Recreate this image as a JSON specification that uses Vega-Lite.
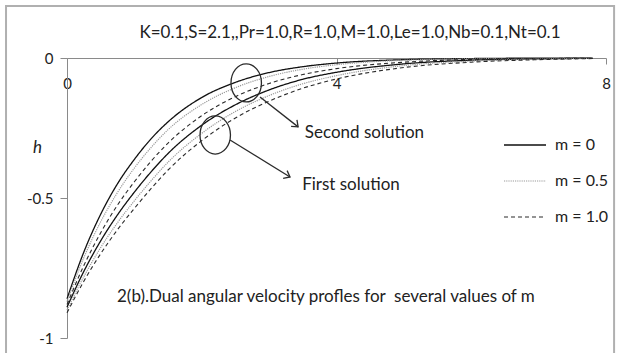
{
  "$schema": "https://vega.github.io/schema/vega-lite/v6.json",
  "width": 539,
  "height": 280,
  "autosize": "none",
  "padding": {"left": 67, "top": 58, "right": 15, "bottom": 15},
  "background": "white",
  "config": {
    "view": {"stroke": null},
    "font": "Lato"
  },
  "datasets": {
    "profiles": [
      {"sol": "second", "m": "m = 0", "x": 0, "h": -0.86},
      {"sol": "second", "m": "m = 0", "x": 0.25, "h": -0.693},
      {"sol": "second", "m": "m = 0", "x": 0.5, "h": -0.558},
      {"sol": "second", "m": "m = 0", "x": 0.75, "h": -0.449},
      {"sol": "second", "m": "m = 0", "x": 1, "h": -0.362},
      {"sol": "second", "m": "m = 0", "x": 1.25, "h": -0.288},
      {"sol": "second", "m": "m = 0", "x": 1.5, "h": -0.228},
      {"sol": "second", "m": "m = 0", "x": 2, "h": -0.141},
      {"sol": "second", "m": "m = 0", "x": 2.5, "h": -0.087},
      {"sol": "second", "m": "m = 0", "x": 3, "h": -0.052},
      {"sol": "second", "m": "m = 0", "x": 3.5, "h": -0.031},
      {"sol": "second", "m": "m = 0", "x": 4, "h": -0.018},
      {"sol": "second", "m": "m = 0", "x": 5, "h": -0.006},
      {"sol": "second", "m": "m = 0", "x": 6, "h": -0.002},
      {"sol": "second", "m": "m = 0", "x": 7, "h": -0.0005},
      {"sol": "second", "m": "m = 0", "x": 7.8, "h": -0.0002},

      {"sol": "second", "m": "m = 0.5", "x": 0, "h": -0.87},
      {"sol": "second", "m": "m = 0.5", "x": 0.25, "h": -0.713},
      {"sol": "second", "m": "m = 0.5", "x": 0.5, "h": -0.585},
      {"sol": "second", "m": "m = 0.5", "x": 0.75, "h": -0.48},
      {"sol": "second", "m": "m = 0.5", "x": 1, "h": -0.393},
      {"sol": "second", "m": "m = 0.5", "x": 1.25, "h": -0.319},
      {"sol": "second", "m": "m = 0.5", "x": 1.5, "h": -0.256},
      {"sol": "second", "m": "m = 0.5", "x": 2, "h": -0.166},
      {"sol": "second", "m": "m = 0.5", "x": 2.5, "h": -0.106},
      {"sol": "second", "m": "m = 0.5", "x": 3, "h": -0.066},
      {"sol": "second", "m": "m = 0.5", "x": 3.5, "h": -0.04},
      {"sol": "second", "m": "m = 0.5", "x": 4, "h": -0.024},
      {"sol": "second", "m": "m = 0.5", "x": 5, "h": -0.008},
      {"sol": "second", "m": "m = 0.5", "x": 6, "h": -0.003},
      {"sol": "second", "m": "m = 0.5", "x": 7, "h": -0.001},
      {"sol": "second", "m": "m = 0.5", "x": 7.8, "h": -0.0003},

      {"sol": "second", "m": "m = 1.0", "x": 0, "h": -0.88},
      {"sol": "second", "m": "m = 1.0", "x": 0.25, "h": -0.741},
      {"sol": "second", "m": "m = 1.0", "x": 0.5, "h": -0.624},
      {"sol": "second", "m": "m = 1.0", "x": 0.75, "h": -0.525},
      {"sol": "second", "m": "m = 1.0", "x": 1, "h": -0.442},
      {"sol": "second", "m": "m = 1.0", "x": 1.25, "h": -0.368},
      {"sol": "second", "m": "m = 1.0", "x": 1.5, "h": -0.304},
      {"sol": "second", "m": "m = 1.0", "x": 2, "h": -0.206},
      {"sol": "second", "m": "m = 1.0", "x": 2.5, "h": -0.138},
      {"sol": "second", "m": "m = 1.0", "x": 3, "h": -0.091},
      {"sol": "second", "m": "m = 1.0", "x": 3.5, "h": -0.059},
      {"sol": "second", "m": "m = 1.0", "x": 4, "h": -0.038},
      {"sol": "second", "m": "m = 1.0", "x": 5, "h": -0.015},
      {"sol": "second", "m": "m = 1.0", "x": 6, "h": -0.005},
      {"sol": "second", "m": "m = 1.0", "x": 7, "h": -0.002},
      {"sol": "second", "m": "m = 1.0", "x": 7.8, "h": -0.001},

      {"sol": "first", "m": "m = 0", "x": 0, "h": -0.89},
      {"sol": "first", "m": "m = 0", "x": 0.25, "h": -0.762},
      {"sol": "first", "m": "m = 0", "x": 0.5, "h": -0.653},
      {"sol": "first", "m": "m = 0", "x": 0.75, "h": -0.56},
      {"sol": "first", "m": "m = 0", "x": 1, "h": -0.479},
      {"sol": "first", "m": "m = 0", "x": 1.25, "h": -0.406},
      {"sol": "first", "m": "m = 0", "x": 1.5, "h": -0.341},
      {"sol": "first", "m": "m = 0", "x": 2, "h": -0.24},
      {"sol": "first", "m": "m = 0", "x": 2.5, "h": -0.167},
      {"sol": "first", "m": "m = 0", "x": 3, "h": -0.114},
      {"sol": "first", "m": "m = 0", "x": 3.5, "h": -0.076},
      {"sol": "first", "m": "m = 0", "x": 4, "h": -0.051},
      {"sol": "first", "m": "m = 0", "x": 5, "h": -0.021},
      {"sol": "first", "m": "m = 0", "x": 6, "h": -0.008},
      {"sol": "first", "m": "m = 0", "x": 7, "h": -0.003},
      {"sol": "first", "m": "m = 0", "x": 7.8, "h": -0.001},

      {"sol": "first", "m": "m = 0.5", "x": 0, "h": -0.9},
      {"sol": "first", "m": "m = 0.5", "x": 0.25, "h": -0.781},
      {"sol": "first", "m": "m = 0.5", "x": 0.5, "h": -0.677},
      {"sol": "first", "m": "m = 0.5", "x": 0.75, "h": -0.588},
      {"sol": "first", "m": "m = 0.5", "x": 1, "h": -0.51},
      {"sol": "first", "m": "m = 0.5", "x": 1.25, "h": -0.438},
      {"sol": "first", "m": "m = 0.5", "x": 1.5, "h": -0.372},
      {"sol": "first", "m": "m = 0.5", "x": 2, "h": -0.269},
      {"sol": "first", "m": "m = 0.5", "x": 2.5, "h": -0.191},
      {"sol": "first", "m": "m = 0.5", "x": 3, "h": -0.134},
      {"sol": "first", "m": "m = 0.5", "x": 3.5, "h": -0.092},
      {"sol": "first", "m": "m = 0.5", "x": 4, "h": -0.063},
      {"sol": "first", "m": "m = 0.5", "x": 5, "h": -0.027},
      {"sol": "first", "m": "m = 0.5", "x": 6, "h": -0.011},
      {"sol": "first", "m": "m = 0.5", "x": 7, "h": -0.004},
      {"sol": "first", "m": "m = 0.5", "x": 7.8, "h": -0.0015},

      {"sol": "first", "m": "m = 1.0", "x": 0, "h": -0.91},
      {"sol": "first", "m": "m = 1.0", "x": 0.25, "h": -0.797},
      {"sol": "first", "m": "m = 1.0", "x": 0.5, "h": -0.699},
      {"sol": "first", "m": "m = 1.0", "x": 0.75, "h": -0.613},
      {"sol": "first", "m": "m = 1.0", "x": 1, "h": -0.537},
      {"sol": "first", "m": "m = 1.0", "x": 1.25, "h": -0.466},
      {"sol": "first", "m": "m = 1.0", "x": 1.5, "h": -0.4},
      {"sol": "first", "m": "m = 1.0", "x": 2, "h": -0.295},
      {"sol": "first", "m": "m = 1.0", "x": 2.5, "h": -0.214},
      {"sol": "first", "m": "m = 1.0", "x": 3, "h": -0.154},
      {"sol": "first", "m": "m = 1.0", "x": 3.5, "h": -0.108},
      {"sol": "first", "m": "m = 1.0", "x": 4, "h": -0.075},
      {"sol": "first", "m": "m = 1.0", "x": 5, "h": -0.034},
      {"sol": "first", "m": "m = 1.0", "x": 6, "h": -0.015},
      {"sol": "first", "m": "m = 1.0", "x": 7, "h": -0.006},
      {"sol": "first", "m": "m = 1.0", "x": 7.8, "h": -0.002}
    ],
    "frame": [{"x": -0.905, "x2": 8.12, "h": 0.186, "h2": -1.2}],
    "heading": [{"x": 4.2, "h": 0.089, "text": "K=0.1,S=2.1,,Pr=1.0,R=1.0,M=1.0,Le=1.0,Nb=0.1,Nt=0.1"}],
    "rings": [
      {"which": "second", "x": 2.66, "h": -0.089},
      {"which": "first", "x": 2.2, "h": -0.275}
    ],
    "arrows": [
      {"id": "second", "x": 2.865, "h": -0.139, "x2": 3.43, "h2": -0.246},
      {"id": "first", "x": 2.42, "h": -0.293, "x2": 3.31, "h2": -0.425}
    ],
    "notes": [
      {"x": 3.53, "h": -0.268, "text": "Second solution"},
      {"x": 3.49, "h": -0.454, "text": "First solution"},
      {"x": 0.742, "h": -0.854, "text": "2(b).Dual angular velocity profles for\u00a0 several values of m"}
    ]
  },
  "layer": [
    {
      "data": {"name": "frame"},
      "mark": {"type": "rect", "fill": null, "stroke": "#b0b0b0", "strokeWidth": 2, "clip": false},
      "encoding": {
        "x": {"field": "x", "type": "quantitative", "scale": {"domain": [0, 8]}},
        "x2": {"field": "x2"},
        "y": {"field": "h", "type": "quantitative", "scale": {"domain": [-1, 0]}},
        "y2": {"field": "h2"}
      }
    },
    {
      "data": {"name": "heading"},
      "mark": {"type": "text", "align": "center", "baseline": "middle", "font": "Lato", "fontSize": 17, "color": "#222"},
      "encoding": {
        "x": {"field": "x", "type": "quantitative"},
        "y": {"field": "h", "type": "quantitative"},
        "text": {"field": "text"}
      }
    },
    {
      "data": {"name": "profiles"},
      "mark": {"type": "line", "interpolate": "monotone"},
      "encoding": {
        "x": {
          "field": "x",
          "type": "quantitative",
          "scale": {"domain": [0, 8], "nice": false},
          "axis": {
            "orient": "bottom",
            "offset": -280,
            "values": [0, 4, 8],
            "format": "~g",
            "title": null,
            "grid": false,
            "domainColor": "#8a8a8a",
            "tickColor": "#8a8a8a",
            "tickSize": 6,
            "labelPadding": 12,
            "labelFont": "Lato",
            "labelFontSize": 15,
            "labelColor": "#222",
            "labelFlush": false
          }
        },
        "y": {
          "field": "h",
          "type": "quantitative",
          "scale": {"domain": [-1, 0], "nice": false},
          "axis": {
            "values": [-1, -0.5, 0],
            "labelExpr": "replace(format(datum.value, '~g'), '\u2212', '-')",
            "title": "h",
            "titleAngle": 0,
            "titleX": -30,
            "titleY": 98,
            "titleFont": "Lato",
            "titleFontStyle": "italic",
            "titleFontWeight": "normal",
            "titleFontSize": 17,
            "titleColor": "#222",
            "grid": false,
            "domainColor": "#8a8a8a",
            "tickColor": "#8a8a8a",
            "tickSize": 7,
            "labelPadding": 7,
            "labelFont": "Lato",
            "labelFontSize": 15,
            "labelColor": "#222"
          }
        },
        "detail": {"field": "sol"},
        "strokeWidth": {
          "field": "m",
          "type": "nominal",
          "scale": {"domain": ["m = 0", "m = 0.5", "m = 1.0"], "range": [1.3, 1.1, 1.7]},
          "legend": null
        },
        "strokeDash": {
          "field": "m",
          "type": "nominal",
          "scale": {"domain": ["m = 0", "m = 0.5", "m = 1.0"], "range": [[1, 0], [1.2, 1], [4, 3]]},
          "legend": {
            "title": null,
            "orient": "none",
            "legendX": 436,
            "legendY": 65,
            "symbolType": "stroke",
            "symbolSize": 1764,
            "symbolStrokeWidth": 1.4,
            "rowPadding": 6,
            "labelFont": "Lato",
            "labelFontSize": 16,
            "labelColor": "#222",
            "labelOffset": 8
          }
        },
        "color": {
          "field": "m",
          "type": "nominal",
          "scale": {"domain": ["m = 0", "m = 0.5", "m = 1.0"], "range": ["#111111", "#9a9a9a", "#2a2a2a"]},
          "legend": {
            "title": null,
            "orient": "none",
            "legendX": 436,
            "legendY": 65,
            "symbolType": "stroke",
            "symbolSize": 1764,
            "symbolStrokeWidth": 1.4,
            "rowPadding": 6,
            "labelFont": "Lato",
            "labelFontSize": 16,
            "labelColor": "#222",
            "labelOffset": 8
          }
        }
      }
    },
    {
      "data": {"name": "rings"},
      "mark": {
        "type": "point",
        "shape": "M0,-1A0.8,1,0,1,1,0,1A0.8,1,0,1,1,0,-1Z",
        "size": 1450,
        "filled": false,
        "stroke": "#2b2b2b",
        "strokeWidth": 1.3,
        "opacity": 1
      },
      "encoding": {
        "x": {"field": "x", "type": "quantitative"},
        "y": {"field": "h", "type": "quantitative"}
      }
    },
    {
      "data": {"name": "arrows"},
      "mark": {"type": "rule", "stroke": "#2b2b2b", "strokeWidth": 1.3},
      "encoding": {
        "x": {"field": "x", "type": "quantitative"},
        "y": {"field": "h", "type": "quantitative"},
        "x2": {"field": "x2"},
        "y2": {"field": "h2"}
      }
    },
    {
      "data": {"name": "arrows"},
      "transform": [{"filter": "datum.id === 'second'"}],
      "mark": {
        "type": "point",
        "shape": "M-1,-0.8L0,0L-1,0.8",
        "size": 120,
        "filled": false,
        "stroke": "#2b2b2b",
        "strokeWidth": 1.3,
        "opacity": 1,
        "angle": 42
      },
      "encoding": {
        "x": {"field": "x2", "type": "quantitative"},
        "y": {"field": "h2", "type": "quantitative"}
      }
    },
    {
      "data": {"name": "arrows"},
      "transform": [{"filter": "datum.id === 'first'"}],
      "mark": {
        "type": "point",
        "shape": "M-1,-0.8L0,0L-1,0.8",
        "size": 120,
        "filled": false,
        "stroke": "#2b2b2b",
        "strokeWidth": 1.3,
        "opacity": 1,
        "angle": 27
      },
      "encoding": {
        "x": {"field": "x2", "type": "quantitative"},
        "y": {"field": "h2", "type": "quantitative"}
      }
    },
    {
      "data": {"name": "notes"},
      "mark": {"type": "text", "align": "left", "baseline": "middle", "font": "Lato", "fontSize": 17, "color": "#222"},
      "encoding": {
        "x": {"field": "x", "type": "quantitative"},
        "y": {"field": "h", "type": "quantitative"},
        "text": {"field": "text"}
      }
    }
  ]
}
